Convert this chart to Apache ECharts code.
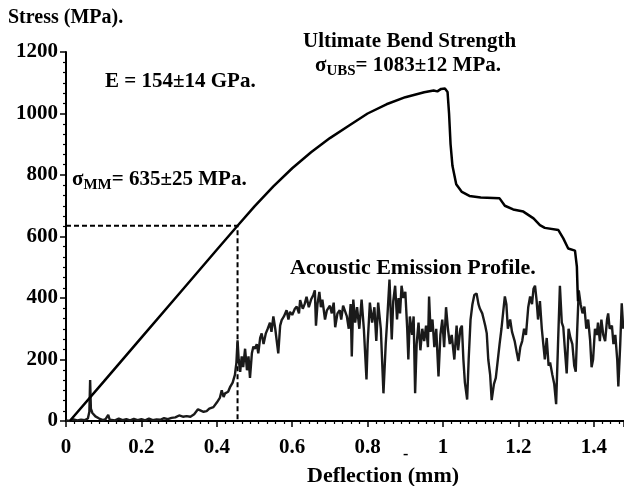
<!DOCTYPE html>
<html>
<head>
<meta charset="utf-8">
<script src="https://cdn.jsdelivr.net/npm/echarts@6/dist/echarts.min.js"></script>
<style>
html,body{margin:0;padding:0;background:#fff;}
#chart{width:624px;height:486px;}
</style>
</head>
<body>
<div id="chart"></div>
<script>
// ---- data ----
const xTicks = [0, 0.2, 0.4, 0.6, 0.8, 1, 1.2, 1.4];
const yTicks = [0, 200, 400, 600, 800, 1000, 1200];

const stressDeflection = [0.01, 0.1, 0.2, 0.3, 0.4, 0.455, 0.5, 0.55, 0.6, 0.65, 0.7, 0.75, 0.8, 0.85, 0.9, 0.95, 0.975, 0.985, 0.995, 1.005, 1.012, 1.016, 1.02, 1.025, 1.035, 1.05, 1.07, 1.1, 1.15, 1.164, 1.186, 1.213, 1.24, 1.257, 1.27, 1.306, 1.319, 1.332, 1.35, 1.355, 1.357, 1.358];
const stressValues    = [0, 128, 271, 414, 557, 635, 698, 763, 822, 874, 920, 960, 1000, 1030, 1053, 1069, 1075, 1072, 1080, 1081, 1070, 1000, 900, 830, 770, 745, 732, 727, 724, 700, 688, 681, 659, 637, 628, 621, 594, 561, 554, 502, 420, 390];

const aeDeflection = [0.000,0.010,0.020,0.030,0.040,0.050,0.058,0.062,0.064,0.066,0.070,0.078,0.088,0.098,0.105,0.112,0.116,0.13,0.14,0.15,0.16,0.17,0.18,0.19,0.20,0.21,0.22,0.23,0.24,0.25,0.26,0.27,0.28,0.29,0.30,0.31,0.32,0.33,0.34,0.35,0.355,0.365,0.373,0.38,0.391,0.40,0.408,0.413,0.418,0.422,0.43,0.435,0.442,0.448,0.452,0.455,0.458,0.462,0.466,0.470,0.475,0.48,0.484,0.488,0.493,0.497,0.501,0.506,0.51,0.515,0.519,0.524,0.53,0.535,0.541,0.545,0.55,0.555,0.559,0.563,0.568,0.572,0.578,0.585,0.59,0.594,0.6,0.607,0.612,0.618,0.621,0.628,0.633,0.638,0.644,0.65,0.656,0.66,0.663,0.667,0.672,0.676,0.68,0.687,0.692,0.70,0.705,0.71,0.714,0.72,0.726,0.73,0.735,0.74,0.745,0.75,0.755,0.758,0.762,0.767,0.772,0.778,0.784,0.79,0.797,0.80,0.806,0.812,0.818,0.823,0.828,0.835,0.842,0.848,0.852,0.858,0.864,0.868,0.873,0.878,0.882,0.886,0.89,0.895,0.9,0.905,0.908,0.912,0.918,0.922,0.926,0.93,0.935,0.94,0.945,0.95,0.955,0.96,0.963,0.967,0.972,0.977,0.982,0.988,0.993,0.998,1.003,1.008,1.013,1.018,1.023,1.03,1.036,1.04,1.046,1.05,1.054,1.058,1.064,1.068,1.073,1.078,1.083,1.089,1.094,1.098,1.104,1.108,1.112,1.116,1.12,1.125,1.129,1.135,1.14,1.145,1.15,1.155,1.16,1.164,1.168,1.172,1.178,1.183,1.19,1.196,1.2,1.205,1.21,1.215,1.22,1.226,1.231,1.236,1.24,1.244,1.248,1.252,1.257,1.262,1.266,1.27,1.275,1.28,1.284,1.29,1.295,1.30,1.305,1.31,1.315,1.319,1.324,1.328,1.333,1.338,1.343,1.348,1.352,1.356,1.36,1.365,1.37,1.375,1.38,1.385,1.39,1.394,1.398,1.403,1.408,1.411,1.416,1.42,1.425,1.43,1.435,1.438,1.442,1.448,1.452,1.457,1.462,1.465,1.47,1.474,1.478];
const aeValues = [2,0,5,2,4,3,8,30,133,40,26,15,8,3,6,20,4,2,8,3,6,2,7,3,6,2,8,3,5,4,9,6,10,12,18,14,16,14,22,38,42,30,32,40,45,60,75,100,78,90,95,110,125,150,190,262,200,160,210,175,235,165,210,140,220,242,235,250,220,270,285,250,285,300,320,290,340,300,296,220,310,328,340,360,330,355,345,365,372,350,393,365,380,404,370,395,410,425,310,380,420,370,395,330,360,375,350,385,305,350,360,330,375,380,340,300,380,210,395,320,370,300,395,300,135,250,385,320,370,260,385,300,90,250,330,460,265,390,440,330,400,350,440,400,420,300,200,340,280,340,90,250,320,230,300,260,310,240,405,290,330,240,300,145,280,330,240,370,300,250,280,200,310,230,300,310,200,125,70,200,330,380,410,415,380,365,350,330,310,285,200,150,68,120,140,135,250,300,360,405,380,300,330,290,260,220,195,240,260,300,280,370,405,380,430,440,395,330,390,300,250,200,270,180,190,150,120,55,250,440,320,305,220,155,300,270,250,180,160,300,425,380,350,372,300,330,265,175,200,300,280,320,260,330,280,260,330,350,300,310,250,280,200,112,250,383,300];

const mmDeflection = 0.455;
const mmStress = 635;

const FONT = '"Liberation Serif", "Times New Roman", serif';

const zip = (xs, ys) => xs.map((x, i) => [x, ys[i]]);

const chart = echarts.init(document.getElementById('chart'), null, {renderer: 'canvas'});
chart.setOption({
  animation: false,
  backgroundColor: '#fff',
  grid: {left: 66, right: 0, top: 52, bottom: 65, containLabel: false},
  xAxis: {
    type: 'value', min: 0, max: 1.48, interval: 0.2,
    axisLine: {show: true, lineStyle: {color: '#000', width: 2}},
    axisTick: {show: true, inside: false, length: 6, lineStyle: {color: '#000', width: 1.5}},
    minorTick: {show: true, splitNumber: 9, length: 3, lineStyle: {color: '#000', width: 1.2}},
    splitLine: {show: false},
    axisLabel: {
      color: '#000', fontFamily: FONT, fontWeight: 'bold', fontSize: 21, margin: 16,
      showMaxLabel: false,
      formatter: v => {
        const r = Math.round(v * 10) / 10;
        return xTicks.indexOf(r) >= 0 ? String(r) : '';
      }
    }
  },
  yAxis: {
    type: 'value', min: 0, max: 1200, interval: 200,
    axisLine: {show: true, lineStyle: {color: '#000', width: 2}},
    axisTick: {show: true, inside: false, length: 6, lineStyle: {color: '#000', width: 1.5}},
    minorTick: {show: true, splitNumber: 6, length: 3, lineStyle: {color: '#000', width: 1.2}},
    splitLine: {show: false},
    axisLabel: {
      color: '#000', fontFamily: FONT, fontWeight: 'bold', fontSize: 21, margin: 8,
      formatter: v => (yTicks.indexOf(v) >= 0 ? String(v) : '')
    }
  },
  series: [
    {
      type: 'line', name: 'dashed', showSymbol: false, silent: true,
      data: [[0, mmStress], [mmDeflection, mmStress], [mmDeflection, 0]],
      lineStyle: {color: '#000', width: 2, type: [5, 3]}, z: 1
    },
    {
      type: 'line', name: 'AE', showSymbol: false,
      data: zip(aeDeflection, aeValues),
      lineStyle: {color: '#1a1a1a', width: 2.4}, z: 2
    },
    {
      type: 'line', name: 'Stress', showSymbol: false,
      data: zip(stressDeflection, stressValues),
      lineStyle: {color: '#000', width: 2.5}, z: 3
    }
  ],
  graphic: [
    {type: 'text', left: 8, top: 8, style: {text: 'Stress (MPa).', font: 'bold 20px ' + FONT, fill: '#000'}},
    {type: 'text', left: 105, top: 71, style: {text: 'E = 154±14 GPa.', font: 'bold 21px ' + FONT, fill: '#000'}},
    {type: 'text', left: 72, top: 169, style: {
      text: '{a|σ}{b|MM}{c|= 635±25 MPa.}',
      rich: {
        a: {font: 'bold 21px ' + FONT, fill: '#000', lineHeight: 26},
        b: {font: 'bold 15px ' + FONT, fill: '#000', lineHeight: 12, verticalAlign: 'bottom'},
        c: {font: 'bold 21px ' + FONT, fill: '#000', lineHeight: 26}
      }
    }},
    {type: 'text', left: 303, top: 31, style: {text: 'Ultimate Bend Strength', font: 'bold 21px ' + FONT, fill: '#000'}},
    {type: 'text', left: 315, top: 55, style: {
      text: '{a|σ}{b|UBS}{c|= 1083±12 MPa.}',
      rich: {
        a: {font: 'bold 21px ' + FONT, fill: '#000', lineHeight: 26},
        b: {font: 'bold 15px ' + FONT, fill: '#000', lineHeight: 12, verticalAlign: 'bottom'},
        c: {font: 'bold 21px ' + FONT, fill: '#000', lineHeight: 26}
      }
    }},
    {type: 'text', left: 290, top: 257, style: {text: 'Acoustic Emission Profile.', font: 'bold 22px ' + FONT, fill: '#000'}},
    {type: 'text', left: 307, top: 465, style: {text: 'Deflection (mm)', font: 'bold 22px ' + FONT, fill: '#000'}},
    {type: 'text', left: 403, top: 447, style: {text: '-', font: 'bold 16px ' + FONT, fill: '#000'}}
  ]
});
</script>
</body>
</html>
